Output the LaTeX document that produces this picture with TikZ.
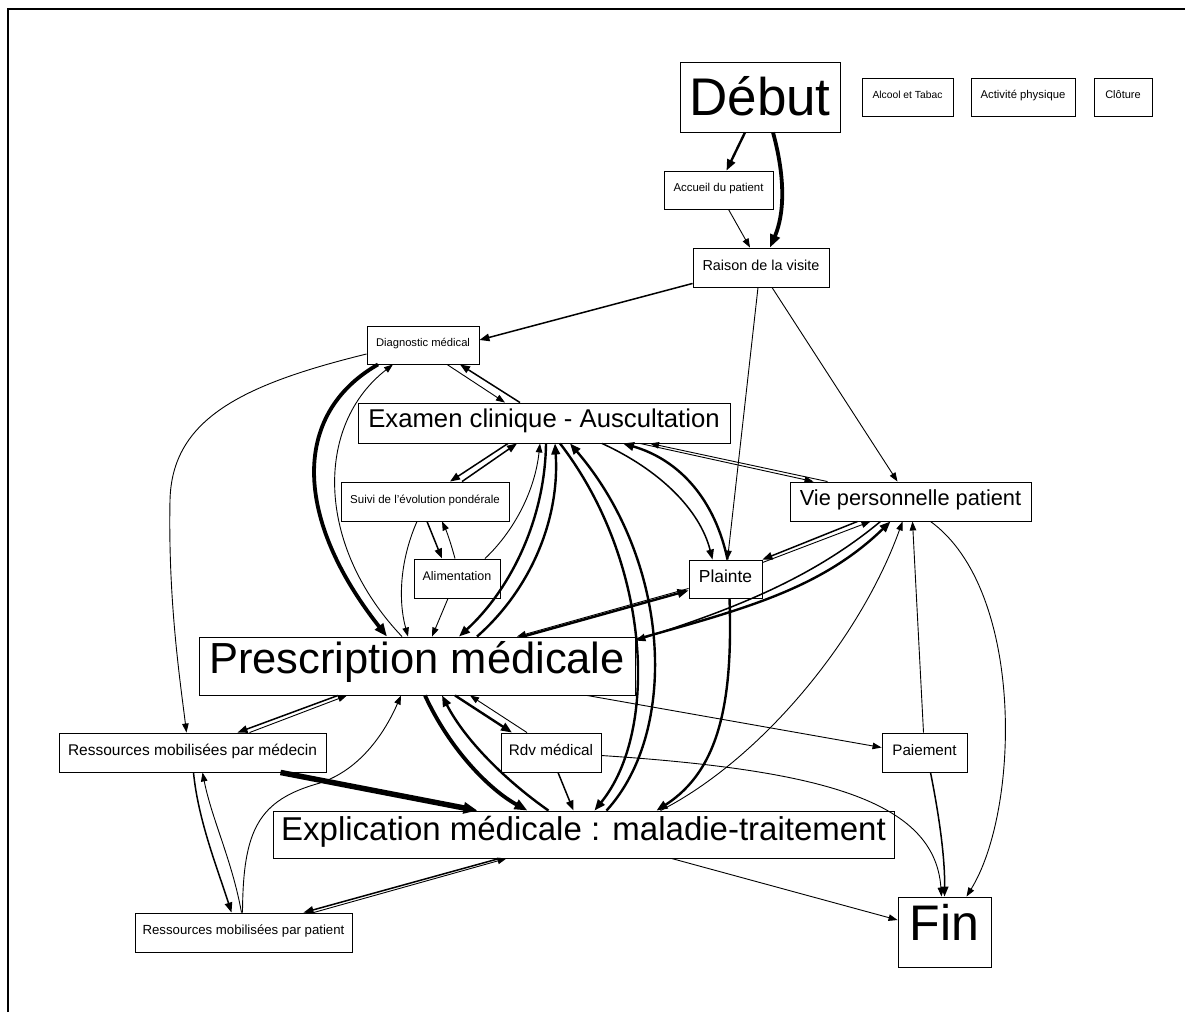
\documentclass[tikz,border=0pt]{standalone}
\usepackage{fontspec}
\setmainfont{Liberation Sans}
\usetikzlibrary{arrows.meta}
\tikzset{box/.style = {draw, line width=0.9pt, inner sep=0pt}}
\tikzset{fs/.style = {font=\fontsize{#1}{#1}\selectfont,
                      text height=0.75*#1, text depth=0.4*#1}}
\tikzset{e1/.style = {line width=0.9pt, -{Triangle[length=9pt, width=6.5pt]}}}
\tikzset{e2/.style = {line width=1.5pt, -{Triangle[length=10pt, width=7.5pt]}}}
\tikzset{e3/.style = {line width=2.4pt, -{Triangle[length=11pt, width=8.5pt]}}}
\tikzset{e4/.style = {line width=3.8pt, -{Triangle[length=13pt, width=10pt]}}}
\tikzset{e5/.style = {line width=5.5pt, -{Triangle[length=14pt, width=11pt]}}}

\begin{document}
\begin{tikzpicture}[x=1pt, y=-1pt]
    \useasboundingbox (0,0) rectangle (1185,1012);
    \draw [line width=1.5pt] (8,1012) -- (8,9) -- (1185,9);

    \node [box, minimum width=160, minimum height=70, fs=53, text depth=0.07*53] (debut) at (760,97) {Début};
    \node [box, minimum width=91, minimum height=38, fs=10.3] (alcool) at (907.5,97) {Alcool et Tabac};
    \node [box, minimum width=104, minimum height=38, fs=11.3] (activ) at (1023,97) {Activité physique};
    \node [box, minimum width=58, minimum height=38, fs=11] (cloture) at (1123,97) {Clôture};
    \node [box, minimum width=109, minimum height=38, fs=11.4] (accueil) at (718.5,190) {Accueil du patient};
    \node [box, minimum width=136, minimum height=39, fs=14.4] (raison) at (761,267.5) {Raison de la visite};
    \node [box, minimum width=112, minimum height=38, fs=11.2] (diag) at (423,345) {Diagnostic médical};
    \node [box, minimum width=372, minimum height=40, fs=25.7] (examen) at (544,423) {Examen clinique - Auscultation};
    \node [box, minimum width=168, minimum height=39, fs=11.5] (suivi) at (425,501.5) {Suivi de l'évolution pondérale};
    \node [box, minimum width=241, minimum height=39, fs=21.8] (vie) at (910.5,501.5) {Vie personnelle patient};
    \node [box, minimum width=86, minimum height=39, fs=12.5] (alim) at (457,578.5) {Alimentation};
    \node [box, minimum width=73, minimum height=38, fs=17.4] (plainte) at (725.5,579) {Plainte};
    \node [box, minimum width=436, minimum height=58, fs=43.5] (presc) at (417,666) {Prescription médicale};
    \node [box, minimum width=267, minimum height=39, fs=15.5] (resmed) at (192.5,752.5) {Ressources mobilisées par médecin};
    \node [box, minimum width=100, minimum height=39, fs=15.3] (rdv) at (551,752.5) {Rdv médical};
    \node [box, minimum width=85, minimum height=39, fs=15.2] (paie) at (924.5,752.5) {Paiement};
    \node [box, minimum width=621, minimum height=47, fs=33] (expl) at (583.5,834.5) {Explication médicale : maladie-traitement};
    \node [box, minimum width=217, minimum height=39, fs=13.2] (respat) at (243.5,932.5) {Ressources mobilisées par patient};
    \node [box, minimum width=93, minimum height=70, fs=50] (fin) at (944.5,932) {Fin};

    % debut, accueil, raison
    \draw [e3] ([xshift=-15]debut.south) -- ([xshift=8]accueil.north);
    \draw [e4] ([xshift=13]debut.south) .. controls (786,180) and (784,215) .. ([xshift=9]raison.north);
    \draw [e1] ([xshift=10]accueil.south) -- ([xshift=-11]raison.north);
    \draw [e2] ([yshift=4]raison.south west) -- ([yshift=5]diag.east);
    \draw [e1] ([xshift=-3]raison.south) -- ([xshift=2]plainte.north);
    \draw [e1] ([xshift=11]raison.south) -- ([xshift=-13]vie.north);

    % diagnostic
    \draw [e1] ([yshift=-9]diag.west) .. controls (240,385) and (172,420) .. (170,500)
               .. controls (168,600) and (180,680) .. ([xshift=-6]resmed.north);
    \draw [e1] ([xshift=24]diag.south) -- ([xshift=-39]examen.north);
    \draw [e2] ([xshift=-24]examen.north) -- ([xshift=37]diag.south);
    \draw [e4] ([xshift=-45]diag.south) .. controls (290,415) and (295,520) .. ([xshift=-30]presc.north);
    \draw [e1] ([xshift=-15]presc.north) .. controls (315,545) and (315,425) .. ([xshift=-30]diag.south);

    % examen
    \draw [e2] ([xshift=-36]examen.south) -- ([xshift=25]suivi.north);
    \draw [e2] ([xshift=37]suivi.north) -- ([xshift=-27]examen.south);
    \draw [e2] ([xshift=2]suivi.south) -- ([xshift=-15]alim.north);
    \draw [e1] ([xshift=-2]alim.north) .. controls (450,540) and (446,530) .. ([xshift=17]suivi.south);
    \draw [e1] ([xshift=-8]suivi.south) .. controls (400,560) and (398,600) .. ([xshift=-9]presc.north);
    \draw [e1] ([xshift=-9]alim.south) -- ([xshift=15]presc.north);
    \draw [e1] ([xshift=28]alim.north) .. controls (515,530) and (535,490) .. ([xshift=-4]examen.south);
    \draw [e3] ([xshift=2]examen.south) .. controls (545,520) and (510,590) .. ([xshift=42]presc.north);
    \draw [e3] ([xshift=60]presc.north) .. controls (530,590) and (560,520) .. ([xshift=11]examen.south);
    \draw [e3] ([xshift=16]examen.south) .. controls (650,560) and (660,730) .. ([xshift=11]expl.north);
    \draw [e3] ([xshift=23]expl.north) .. controls (680,730) and (670,560) .. ([xshift=26]examen.south);
    \draw [e2] ([xshift=58]examen.south) .. controls (660,470) and (700,510) .. ([xshift=-13]plainte.north);
    \draw [e3] ([xshift=2]plainte.north) .. controls (715,500) and (680,460) .. ([xshift=79]examen.south);
    \draw [e1] ([xshift=96]examen.south) -- ([xshift=-97]vie.north);
    \draw [e1] ([xshift=-83]vie.north) -- ([xshift=106]examen.south);

    % plainte, vie
    \draw [e1] ([yshift=-3]plainte.north east) -- ([xshift=-40]vie.south);
    \draw [e2] ([xshift=-53]vie.south) -- (plainte.north east);
    \draw [e3] ([yshift=-3]presc.north east) .. controls (740,610) and (820,590) .. ([xshift=-20]vie.south);
    \draw [e2] ([xshift=-30]vie.south) .. controls (810,580) and (730,610) .. ([yshift=-4]presc.north east);
    \draw [e3] ([xshift=106]presc.north) -- ([yshift=8]plainte.south west);
    \draw [e1] ([yshift=10]plainte.south west) -- ([xshift=100]presc.north);
    \draw [e3] ([xshift=4]plainte.south) .. controls (733,700) and (720,770) .. ([xshift=73]expl.north);
    \draw [e1] ([xshift=77]expl.north) .. controls (760,760) and (860,640) .. ([xshift=-8]vie.south);
    \draw [e1] ([xshift=-1]paie.north) -- ([xshift=2]vie.south);
    \draw [e1] ([xshift=20]vie.south) .. controls (1025,590) and (1020,810) .. ([xshift=22]fin.north);

    % fin
    \draw [e2] ([xshift=6]paie.south) .. controls (940,820) and (945,860) .. (fin.north);
    \draw [e1] ([yshift=-3]rdv.east) .. controls (820,770) and (935,800) .. ([xshift=-3]fin.north);
    \draw [e1] ([xshift=88]expl.south) -- ([yshift=12]fin.west);
    \draw [e1] ([xshift=170]presc.south) -- ([yshift=5]paie.west);

    % prescription, rdv, explication
    \draw [e3] ([xshift=38]presc.south) -- ([xshift=-39]rdv.north);
    \draw [e1] ([xshift=-24]rdv.north) -- ([xshift=53]presc.south);
    \draw [e2] ([xshift=7]rdv.south) -- ([xshift=-10]expl.north);
    \draw [e4] ([xshift=8]presc.south) .. controls (450,750) and (490,790) .. ([xshift=-56]expl.north);
    \draw [e3] ([xshift=-35]expl.north) .. controls (505,780) and (465,740) .. ([xshift=25]presc.south);

    % ressources
    \draw [e2] ([xshift=-79]presc.south) -- ([xshift=45]resmed.north);
    \draw [e1] ([xshift=57]resmed.north) -- ([xshift=-70]presc.south);
    \draw [e5] ([xshift=88]resmed.south) -- ([xshift=-106]expl.north);
    \draw [e2] ([xshift=1]resmed.south) .. controls (198,820) and (218,870) .. ([xshift=-12]respat.north);
    \draw [e1] ([xshift=-2]respat.north) .. controls (232,860) and (212,820) .. ([xshift=10]resmed.south);
    \draw [e1] ([xshift=-1]respat.north) .. controls (243,830) and (258,800) .. (320,783)
               .. controls (362,769) and (386,730) .. ([xshift=-16]presc.south);
    \draw [e2] ([xshift=-84]expl.south) -- ([xshift=60]respat.north);
    \draw [e1] ([xshift=70]respat.north) -- ([xshift=-77]expl.south);
\end{tikzpicture}
\end{document}
